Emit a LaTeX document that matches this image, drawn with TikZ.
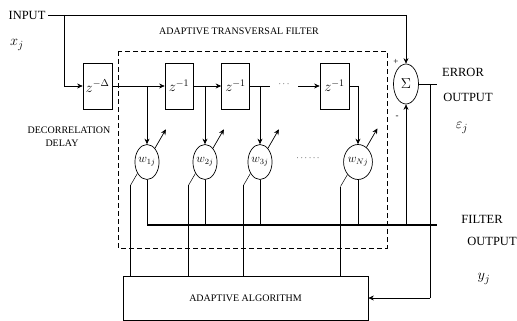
\documentclass[tikz,border=0pt]{standalone}
\usepackage{fontspec}
\setmainfont{Liberation Serif}
\usetikzlibrary{arrows.meta,shapes.geometric}
\begin{document}
\begin{tikzpicture}[x=1pt,y=-1pt,
  line width=0.7pt,
  arr/.style={-{Stealth[length=5.5pt,width=5pt]}},
  delaybox/.style={draw,minimum width=28pt,minimum height=46pt,inner sep=0pt,font=\fontsize{14}{15}\selectfont},
  weight/.style={draw,ellipse,minimum width=22pt,minimum height=35pt,inner sep=0pt,font=\fontsize{11.5}{13}\selectfont},
  biglbl/.style={font=\fontsize{12.5}{14}\selectfont,inner sep=0pt},
  mathlbl/.style={font=\fontsize{15}{16}\selectfont,inner sep=0pt},
  smalllbl/.style={font=\fontsize{10}{11}\selectfont,inner sep=0pt}]
\useasboundingbox (0,0) rectangle (517,321);

% labels
\node[biglbl] (inlbl) at (27,15) {INPUT};
\node[mathlbl] (xlbl) at (17,45) {$x_j$};
\node[smalllbl] (title) at (239,31) {ADAPTIVE TRANSVERSAL FILTER};
\node[smalllbl] (dec1) at (69,130) {DECORRELATION};
\node[smalllbl] (dec2) at (62,143) {DELAY};
\node[biglbl] (err1) at (463,72) {ERROR};
\node[biglbl] (err2) at (468,97) {OUTPUT};
\node[mathlbl] (epsl) at (462,128) {$\varepsilon_j$};
\node[biglbl] (fil1) at (482,219) {FILTER};
\node[biglbl] (fil2) at (492,241) {OUTPUT};
\node[mathlbl] (ylbl) at (484,279) {$y_j$};

% dashed filter frame
\draw[dash pattern=on 5pt off 3pt] (118,51) rectangle (387,248);

% delay boxes
\node[delaybox,minimum width=29pt] (zd) at (97.5,86) {$z^{-\Delta}$};
\node[delaybox] (d1) at (179,86) {$z^{-1}$};
\node[delaybox] (d2) at (235.5,86) {$z^{-1}$};
\node[delaybox,minimum width=29pt] (dN) at (334.5,86) {$z^{-1}$};

% weights
\node[weight] (w1) at (147,162) {$w_{1j}$};
\node[weight] (w2) at (205,162) {$w_{2j}$};
\node[weight] (w3) at (260,162) {$w_{3j}$};
\node[weight] (wN) at (358,162) {$w_{Nj}$};
\node[font=\small] (wdots) at (308,158) {$\cdots\cdots$};

% summer
\node[draw,ellipse,minimum width=25pt,minimum height=40pt,inner sep=0pt,font=\Large] (sum) at (406,84) {$\Sigma$};
\node[font=\small] (plus) at (396,62) {+};
\node[font=\small] (minus) at (397,117) {-};

% algorithm box
\node[draw,minimum width=245pt,minimum height=44pt,inner sep=0pt,smalllbl] (alg) at (245.5,298) {ADAPTIVE ALGORITHM};

% coordinates
\coordinate (inS) at (48,15);
\coordinate (inB) at (64,15);
\coordinate (inC) at (406,15);
\coordinate (t1) at (147,86);
\coordinate (t2) at (205,86);
\coordinate (t3) at (260,86);
\coordinate (t3e) at (270,86);
\coordinate (dNs) at (298,86);
\coordinate (tN) at (358,86);
\coordinate (s1) at (147,225);
\coordinate (sE) at (437,225);
\coordinate (sm) at (406,225);
\coordinate (eE) at (437,84);
\coordinate (eV) at (430,84);
\coordinate (eB) at (430,298);

% input path
\draw (inS) -- (inC);
\draw[arr] (inC) -- (sum.north);
\draw[arr] (inB) |- (zd.west);

% tap line
\draw[arr] (zd.east) -- (d1.west);
\draw[arr] (d1.east) -- (d2.west);
\draw (d2.east) -- (t3e);
\node[font=\small] (ddots) at (284,84) {$\cdots$};
\draw[arr] (dNs) -- (dN.west);
\draw (dN.east) -- (tN);

% taps to weights
\draw[arr] (t1) -- (w1.north);
\draw[arr] (t2) -- (w2.north);
\draw[arr] (t3) -- (w3.north);
\draw[arr] (tN) -- (wN.north);

% adjustment arrows and leads
\foreach \w in {w1,w2,w3,wN}{
  \draw[arr] (\w.60) -- ++(11,-19);
  \draw[line width=0.5pt] (\w.230) -- ++(-7,12) coordinate (\w l);
  \draw[line width=0.5pt] (\w l) -- (\w l |- alg.north);
  \draw (\w.south) -- (\w.south |- s1);
}

% summation line
\draw[line width=1.1pt] (s1) -- (sE);
\draw[arr] (sm) -- (sum.south);

% error output
\draw (sum.east) -- (eE);
\draw (eV) -- (eB);
\draw[arr] (eB) -- (alg.east |- eB);
\end{tikzpicture}
\end{document}
